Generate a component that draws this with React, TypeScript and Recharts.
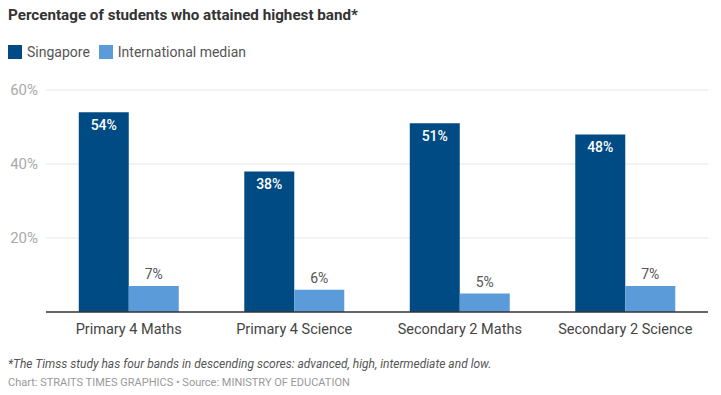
import { BarChart, Bar, XAxis, YAxis, CartesianGrid, LabelList, ReferenceLine } from 'recharts';

const categories = ['Primary 4 Maths', 'Primary 4 Science', 'Secondary 2 Maths', 'Secondary 2 Science'];
const singapore = [54, 38, 51, 48];
const internationalMedian = [7, 6, 5, 7];
const yTicks = [20, 40, 60];

const data = categories.map((name, i) => ({
  name,
  singapore: singapore[i],
  intl: internationalMedian[i],
}));

const DARK = '#004b84';
const LIGHT = '#5b9bd9';
const FONT = 'Roboto, "Noto Sans", sans-serif';

const insideLabel = (props: any) => {
  const { x, y, width, value } = props;
  return (
    <text
      x={x + width / 2}
      y={y + 13}
      textAnchor="middle"
      dominantBaseline="central"
      fill="#fff"
      fontSize={14}
      fontWeight={500}
      fontFamily={FONT}
    >
      {value}%
    </text>
  );
};

const aboveLabel = (props: any) => {
  const { x, y, width, value } = props;
  return (
    <text
      x={x + width / 2}
      y={y - 12}
      textAnchor="middle"
      dominantBaseline="central"
      fill="#555"
      fontSize={14}
      fontFamily={FONT}
    >
      {value}%
    </text>
  );
};

export default function App() {
  return (
    <div style={{ position: 'absolute', left: 0, top: 0, width: 721, height: 395, background: '#fff', fontFamily: FONT }}>
      <div style={{ position: 'absolute', left: 8, top: 6, fontSize: 15.2, fontWeight: 700, color: '#333' }}>
        Percentage of students who attained highest band*
      </div>
      <div style={{ position: 'absolute', left: 8, top: 44, display: 'flex', alignItems: 'center', fontSize: 14, color: '#555' }}>
        <span style={{ width: 14, height: 14, background: DARK, marginRight: 5, display: 'inline-block' }} />
        <span style={{ marginRight: 9 }}>Singapore</span>
        <span style={{ width: 14, height: 14, background: LIGHT, marginRight: 5, display: 'inline-block' }} />
        <span>International median</span>
      </div>
      <div style={{ position: 'absolute', left: 0, top: 0 }}>
        <BarChart
          width={721}
          height={345}
          data={data}
          margin={{ top: 90, right: 13, left: 46, bottom: 0 }}
          barGap={0}
          barCategoryGap="19.8%"
        >
          <CartesianGrid vertical={false} horizontalValues={yTicks} stroke="#e6e6e6" />
          <XAxis
            dataKey="name"
            height={33}
            tickLine={false}
            axisLine={{ stroke: '#333', strokeWidth: 1.5 }}
            tick={{ fill: '#444', fontSize: 14.5, fontFamily: FONT }}
            tickMargin={6}
          />
          <YAxis hide domain={[0, 60]} ticks={yTicks} />
          <Bar dataKey="singapore" fill={DARK} isAnimationActive={false}>
            <LabelList dataKey="singapore" content={insideLabel} />
          </Bar>
          <Bar dataKey="intl" fill={LIGHT} isAnimationActive={false}>
            <LabelList dataKey="intl" content={aboveLabel} />
          </Bar>
          {yTicks.map((t) => (
            <ReferenceLine
              key={t}
              y={t}
              stroke="none"
              label={{ value: `${t}%`, position: 'left', offset: 8, fill: '#aaa', fontSize: 15, fontFamily: FONT }}
            />
          ))}
        </BarChart>
      </div>
      <div style={{ position: 'absolute', left: 8, top: 357, fontSize: 12, fontStyle: 'italic', color: '#555' }}>
        *The Timss study has four bands in descending scores: advanced, high, intermediate and low.
      </div>
      <div style={{ position: 'absolute', left: 8, top: 376, fontSize: 11, color: '#999' }}>
        Chart: STRAITS TIMES GRAPHICS • Source: MINISTRY OF EDUCATION
      </div>
    </div>
  );
}
